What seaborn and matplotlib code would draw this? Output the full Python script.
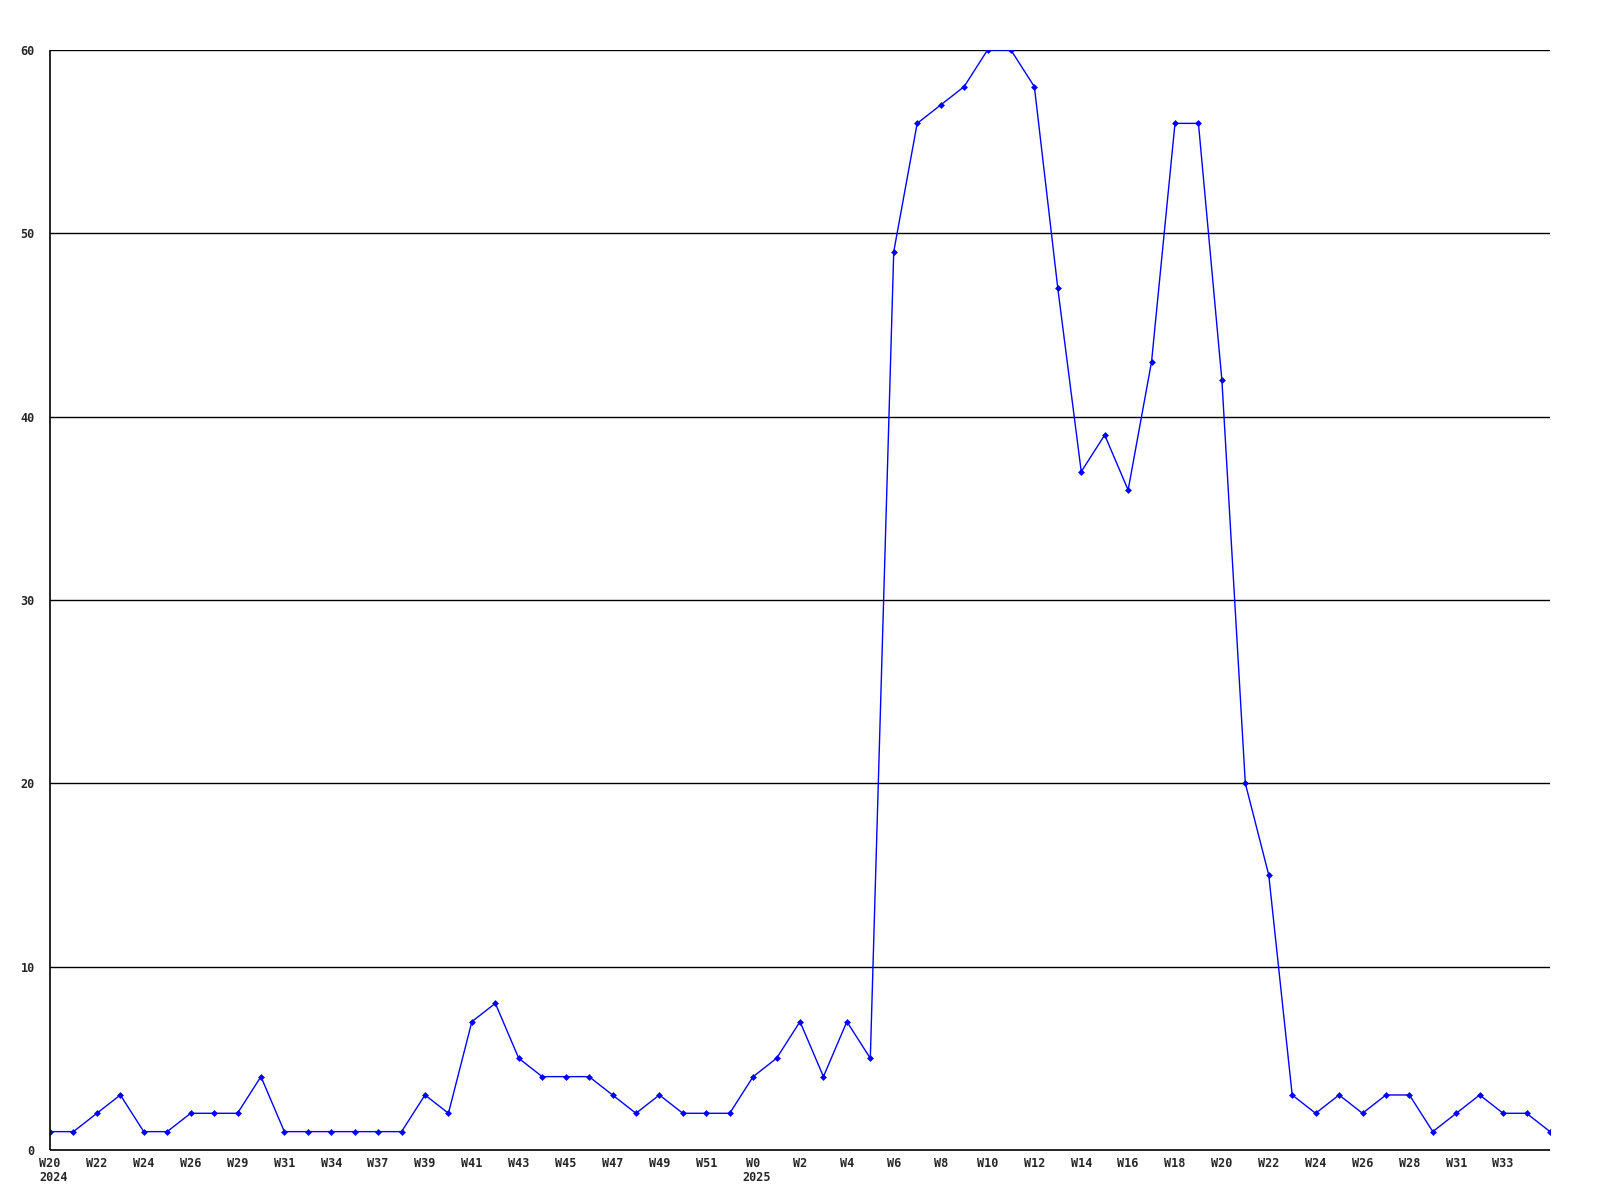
import numpy as np
import matplotlib
matplotlib.use("Agg")
import matplotlib.pyplot as plt
import pandas as pd
import seaborn as sns

# ====================================================================
#   DATA
# ====================================================================
weeks = [20, 21, 22, 23, 24, 25, 26, 28, 29, 30, 31, 33, 34, 35, 37, 38,
         39, 40, 41, 42, 43, 44, 45, 46, 47, 48, 49, 50, 51, 52, 0, 1,
         2, 3, 4, 5, 6, 7, 8, 9, 10, 11, 12, 13, 14, 15, 16, 17,
         18, 19, 20, 21, 22, 23, 24, 25, 26, 27, 28, 30, 31, 32, 33, 34, 35]
years = [2024] * 30 + [2025] * 35
counts = [1, 1, 2, 3, 1, 1, 2, 2, 2, 4, 1, 1, 1, 1, 1, 1,
          3, 2, 7, 8, 5, 4, 4, 4, 3, 2, 3, 2, 2, 2, 4, 5,
          7, 4, 7, 5, 49, 56, 57, 58, 60, 60, 58, 47, 37, 39, 36, 43,
          56, 56, 42, 20, 15, 3, 2, 3, 2, 3, 3, 1, 2, 3, 2, 2, 1]
y_ticks = [0, 10, 20, 30, 40, 50, 60]

df = pd.DataFrame({"idx": range(len(counts)), "week": weeks,
                   "year": years, "count": counts})

# ====================================================================
#   PLOT
# ====================================================================
sns.set_style("white")
plt.rcParams['font.family'] = ['DejaVu Sans Mono']
plt.rcParams['font.weight'] = 'bold'

fig = plt.figure(figsize=(16, 12), dpi=100)
ax = fig.add_axes([0.03125, 0.0417, 0.9375, 0.9166])

sns.lineplot(data=df, x="idx", y="count", ax=ax, color="#0000ff",
             linewidth=1, marker="D", markersize=3.5, markeredgewidth=0,
             clip_on=True)

ax.set_xlim(0, len(counts) - 1)
ax.set_ylim(0, 60)
ax.set_yticks(y_ticks)
ax.set_yticklabels([str(t) for t in y_ticks], fontsize=8.5, fontweight='bold')
for t in y_ticks[1:]:
    ax.axhline(t, color="black", linewidth=1, zorder=0)

tick_idx = list(range(0, len(counts) - 1, 2))
ax.set_xticks(tick_idx)
ax.set_xticklabels([f"W{weeks[i]}" for i in tick_idx], fontsize=8.5,
                   fontweight='bold')
ax.tick_params(axis="both", length=0)
ax.tick_params(axis="x", pad=5)
ax.tick_params(axis="y", pad=11)

# year labels under first tick of each year
seen = set()
for i in tick_idx:
    if years[i] not in seen:
        seen.add(years[i])
        ax.annotate(str(years[i]), xy=(i, 0), xycoords="data",
                    xytext=(-8, -15), textcoords="offset points",
                    ha="left", va="top", fontsize=8.5, fontweight='bold')

for s in ["top", "right"]:
    ax.spines[s].set_visible(False)
for s in ["left", "bottom"]:
    ax.spines[s].set_color("black")
    ax.spines[s].set_linewidth(1.2)
    ax.spines[s].set_capstyle("butt")

ax.set_xlabel("")
ax.set_ylabel("")

fig.savefig("out.png", dpi=100)
